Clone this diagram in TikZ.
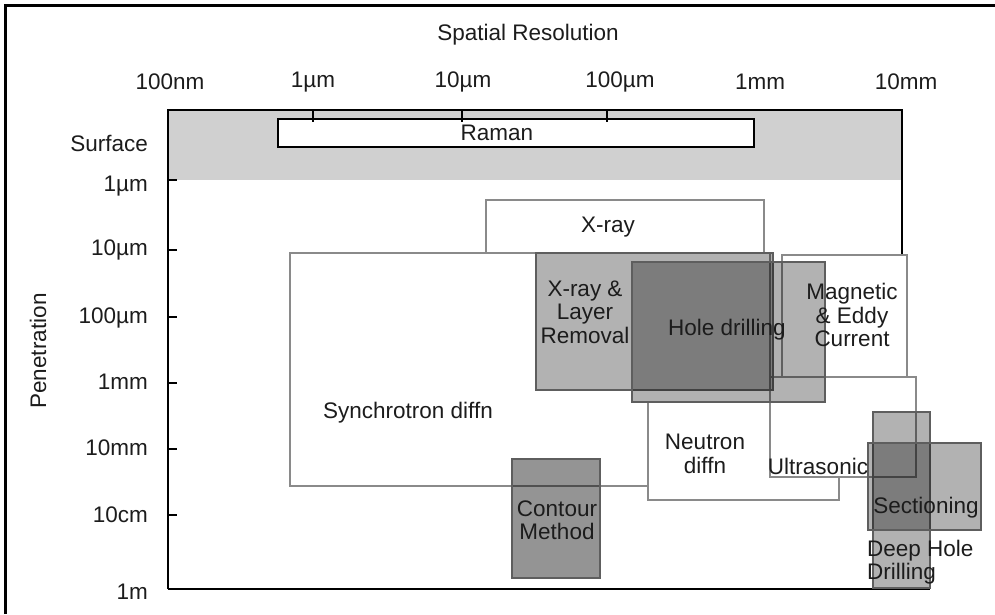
\documentclass[tikz,border=0pt]{standalone}
\usepackage{fontspec}
\setmainfont{Liberation Sans}
\usepackage{xcolor}
\usepackage{tikz}
\definecolor{Band}{HTML}{D0D0D0}
\definecolor{Edge}{HTML}{8A8A8A}
\definecolor{DarkEdge}{HTML}{5E5E5E}
\definecolor{Ink}{HTML}{1C1C1C}

\begin{document}
\begin{tikzpicture}[x=1pt,y=-1pt,
wbox/.style={draw=Edge,fill=white,line width=1.3pt},
gbox/.style={draw=DarkEdge,fill=black,fill opacity=.3,line width=1.2pt},
dbox/.style={gbox,fill opacity=.42},
axis/.style={draw=black,line width=2.6pt},
tickmark/.style={draw=black,line width=2.2pt},
lab/.style={font=\fontsize{22.5}{23.5}\selectfont,text=Ink,inner sep=0pt,align=center},
ylab/.style={lab,anchor=east}]
\useasboundingbox (0,0) rectangle (995,614);
% outer frame
\draw[line width=3pt] (5,614)--(5,5)--(995,5);
% surface band and Raman
\fill[Band] (168,110) rectangle (902,180);
\draw[line width=2.4pt,fill=white] (278,119) rectangle (754,147);
\node[lab] (raman) at (497,133) {Raman};
\foreach \tx in {313,462,607} \draw[tickmark] (\tx,110)--(\tx,122);
% axes
\draw[axis] (168,589)--(168,110)--(902,110)--(902,254);
\draw[axis] (168,589)--(930,589);
\foreach \ty in {180,250,317,383,449,515} \draw[tickmark] (168,\ty)--(177,\ty);
\node[lab] (title) at (528,35) {Spatial Resolution};
\node[lab] (r1) at (170,82) {100nm};
\node[lab] (r2) at (313,82) {1µm};
\node[lab] (r3) at (463,82) {10µm};
\node[lab] (r4) at (620,82) {100µm};
\node[lab] (r5) at (760,82) {1mm};
\node[lab] (r6) at (906,82) {10mm};
\node[ylab] (p0) at (148,143) {Surface};
\node[ylab] (p1) at (148,186) {1µm};
\node[ylab] (p2) at (148,250) {10µm};
\node[ylab] (p3) at (148,318) {100µm};
\node[ylab] (p4) at (148,382) {1mm};
\node[ylab] (p5) at (148,448) {10mm};
\node[ylab] (p6) at (148,515) {10cm};
\node[ylab] (p7) at (148,592) {1m};
\node[lab,rotate=90] (pen) at (38,351) {Penetration};
% open techniques
\draw[wbox] (486,200) rectangle (764,253);
\draw[wbox] (290,253) rectangle (770,486);
\draw[wbox] (648,402) rectangle (839,500);
\draw[wbox] (770,377) rectangle (916,477);
\draw[wbox] (782,255) rectangle (907,377);
% shaded techniques
\draw[gbox] (536,253) rectangle (773,390);
\draw[gbox] (632,262) rectangle (825,402);
\draw[dbox] (512,459) rectangle (600,578);
\draw[gbox] (873,412) rectangle (930,588);
\draw[gbox] (868,443) rectangle (981,530);
% labels
\node[lab] (xray) at (608,227) {X-ray};
\node[lab] (xlr) at (585,312) {X-ray \&\\Layer\\Removal};
\node[lab] (hole) at (727,330) {Hole drilling};
\node[lab] (mag) at (852,315) {Magnetic\\\& Eddy\\Current};
\node[lab] (syn) at (408,413) {Synchrotron diffn};
\node[lab] (neu) at (705,454) {Neutron\\diffn};
\node[lab] (ultra) at (818,466) {Ultrasonic};
\node[lab] (cont) at (557,520) {Contour\\Method};
\node[lab] (sect) at (926,508) {Sectioning};
\node[lab,anchor=west,align=left] (deep) at (867,562) {Deep Hole\\Drilling};
\end{tikzpicture}
\end{document}
